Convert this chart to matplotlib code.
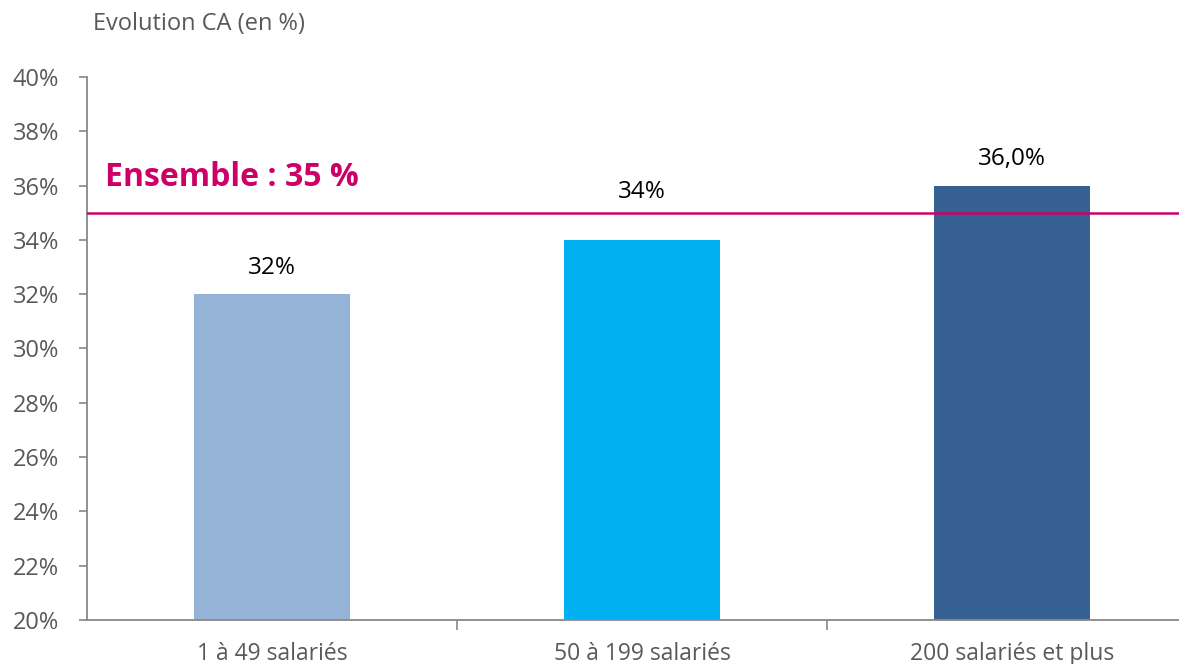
import matplotlib
matplotlib.use("Agg")
import matplotlib.pyplot as plt
from matplotlib.ticker import FuncFormatter, FixedLocator

categories = ["1 à 49 salariés", "50 à 199 salariés", "200 salariés et plus"]
values = [32, 34, 36]
value_labels = ["32%", "34%", "36,0%"]
ensemble = 35
yticks = list(range(20, 41, 2))

colors = ["#95B3D7", "#00B0F0", "#366092"]
label_offsets = [26, 48, 27]  # px above bar top (label centre)
magenta = "#CC0066"
gray = "#595959"

plt.rcParams['font.family'] = ['Open Sans', 'DejaVu Sans']

fig = plt.figure(figsize=(11.79, 6.64), dpi=100)
ax = fig.add_axes([87/1179, 1-620/664, 1110/1179, 543/664])

x = list(range(len(categories)))
ax.bar(x, [v - 20 for v in values], bottom=20, width=0.42, color=colors, zorder=2)
ax.set_xlim(-0.5, len(categories) - 0.5)
ax.set_ylim(20, 40)
ax.set_yticks(yticks)
ax.yaxis.set_major_formatter(FuncFormatter(lambda v, p: f"{int(v)}%"))

ax.set_xticks(x)
ax.set_xticklabels(categories)
ax.xaxis.set_minor_locator(FixedLocator([i + 0.5 for i in x[:-1]]))
ax.tick_params(axis='x', which='major', length=0, pad=16, labelsize=16.5, labelcolor=gray)
ax.tick_params(axis='x', which='minor', length=7, width=1.2, color="#888888", direction='out')
ax.tick_params(axis='y', length=6, width=1.2, color="#888888", labelsize=17, labelcolor=gray, pad=14)

for s in ["top", "right"]:
    ax.spines[s].set_visible(False)
for s in ["left", "bottom"]:
    ax.spines[s].set_color("#888888")
    ax.spines[s].set_linewidth(1.3)

ax.axhline(ensemble, color=magenta, lw=1.8, zorder=3)

for xi, v, lab, off in zip(x, values, value_labels, label_offsets):
    ax.annotate(lab, (xi, v), xytext=(0, off * 0.72), textcoords='offset points',
                ha='center', va='center', fontsize=17.5, color='black')

ax.text(105/1179, 1-178/664, f"Ensemble : {ensemble} %", transform=fig.transFigure,
        fontsize=23, fontweight='bold', color=magenta, ha='left', va='center')
fig.text(93/1179, 1-24/664, "Evolution CA (en %)", fontsize=17, color=gray, ha='left', va='center')

fig.savefig("out.png", dpi=100)
